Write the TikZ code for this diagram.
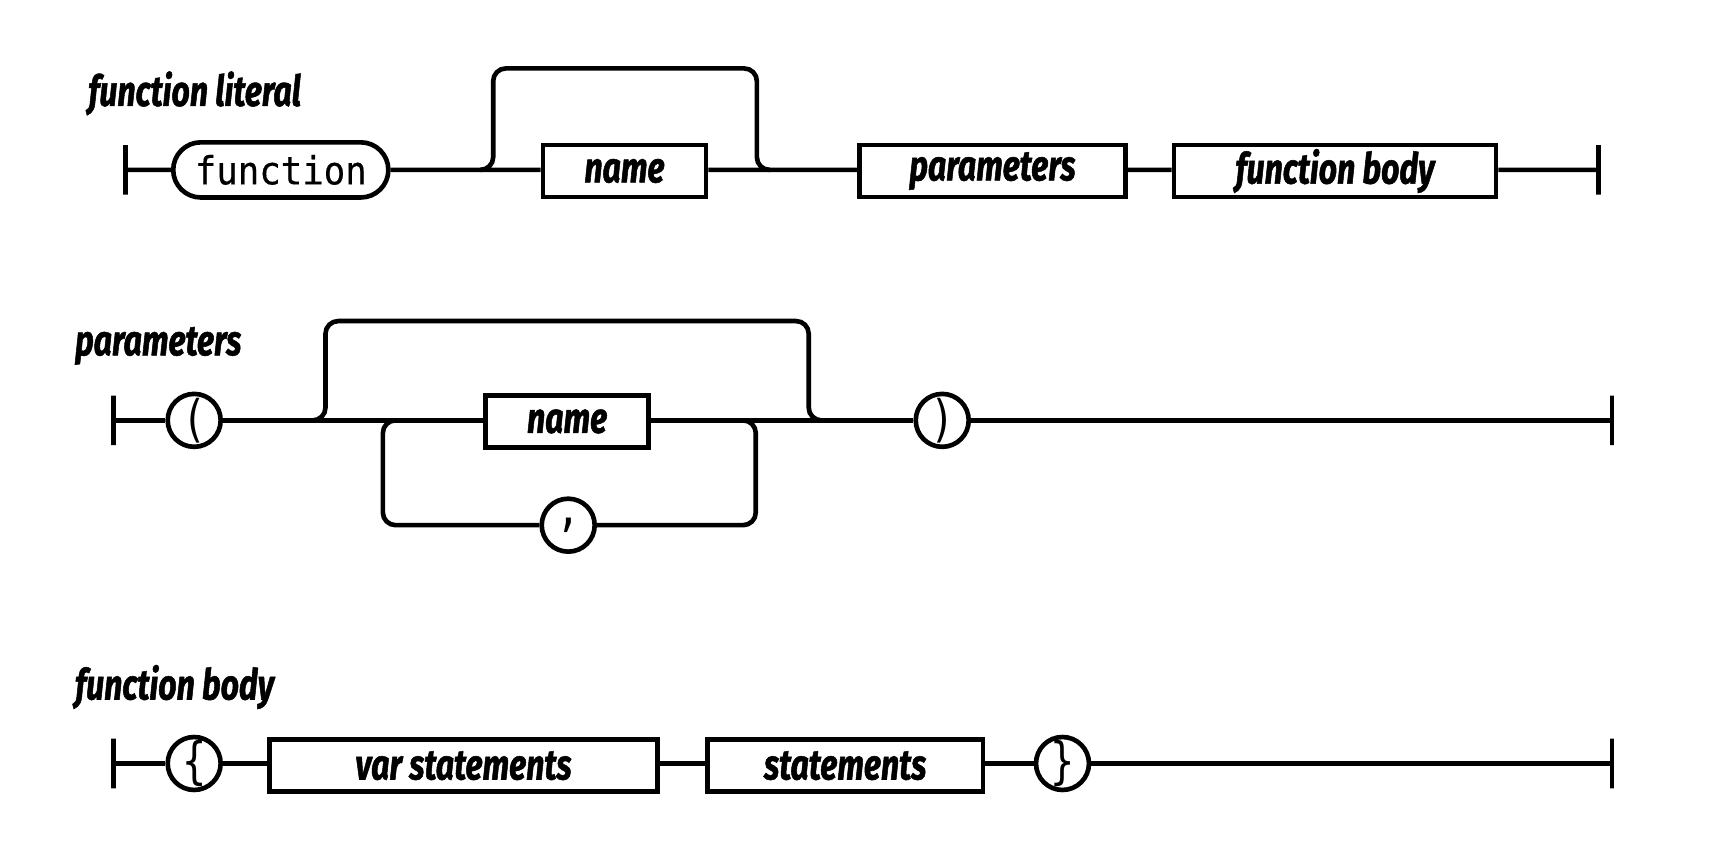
\documentclass[tikz,border=0pt]{standalone}
\usepackage{fontspec}
\usepackage{tikz}
\usetikzlibrary{shapes.misc}
\newfontfamily\railfont[FakeStretch=0.75,FakeBold=1.2]{Fira Sans}
\newfontfamily\railmono[FakeStretch=0.92,FakeBold=0.4]{DejaVu Sans Mono}
\newfontfamily\railtoken[FakeStretch=0.8]{DejaVu Sans Mono}

\begin{document}
\begin{tikzpicture}[x=0.1mm,y=-0.1mm,line width=0.42mm,
  every node/.style={inner sep=0pt},
  endbar/.style={draw,minimum width=0pt,minimum height=4.5mm},
  terminal/.style={draw,rounded rectangle,minimum height=5mm,font=\fontsize{10}{12}\railmono},
  nonterminal/.style={draw,rectangle,minimum height=4.7mm,font=\fontsize{11}{12}\railfont\bfseries\itshape},
  token/.style={draw,circle,minimum size=4.8mm,font=\fontsize{13}{12}\railtoken},
  rulename/.style={anchor=base west,font=\fontsize{11}{12}\railfont\bfseries\itshape},
  bypass/.style={rounded corners=1.15mm}]
\useasboundingbox (0,0) rectangle (1568,776);

\node[rulename] at (78,96) {function literal};
\node[endbar] (fl0) at (114,154) {};
\node[terminal,minimum width=19.5mm] (fl1) at (254.5,154) {function};
\node[nonterminal,minimum width=14.8mm] (fl2) at (566,155) {name};
\node[nonterminal,minimum width=24.1mm] (fl3) at (899.5,155) {parameters};
\node[nonterminal,minimum width=29.2mm] (fl4) at (1210,155) {function body};
\node[endbar] (fl5) at (1449,154) {};
\coordinate (flin) at (435,154);
\coordinate (fla) at (447,62);
\coordinate (flb) at (686,62);
\coordinate (flout) at (698,154);
\draw (fl0) -- (fl1) -- (fl2.west |- fl1) (fl2.east |- fl1) -- (fl3.west |- fl1)
  (fl3.east |- fl1) -- (fl4.west |- fl1) (fl4.east |- fl1) -- (fl5);
\draw[bypass] (flin) -| (fla) -- (flb) |- (flout);

\node[rulename] at (66,322) {parameters};
\node[endbar] (pa0) at (103,381) {};
\node[token] (pa1) at (176,381) {(};
\node[nonterminal,minimum width=14.8mm] (pa2) at (514,382) {name};
\node[token] (pa3) at (854,381) {)};
\node[endbar] (pa4) at (1461,381) {};
\node[token] (pa5) at (515,476) {,};
\coordinate (pain) at (283,381);
\coordinate (paa) at (295,291);
\coordinate (pab) at (733,291);
\coordinate (paout) at (745,381);
\coordinate (lpa) at (360,381);
\coordinate (lpb) at (347,476);
\coordinate (lpc) at (685,476);
\coordinate (lpd) at (673,381);
\draw (pa0) -- (pa1) -- (pa2.west |- pa1) (pa2.east |- pa1) -- (pa3) -- (pa4);
\draw[bypass] (pain) -| (paa) -- (pab) |- (paout);
\draw[bypass] (lpa) -| (lpb) -- (pa5);
\draw[bypass] (pa5) -- (lpc) |- (lpd);

\node[rulename] at (66,634) {function body};
\node[endbar] (fb0) at (103,692) {};
\node[token] (fb1) at (176,692) {\{};
\node[nonterminal,minimum width=35.2mm] (fb2) at (420,694) {var statements};
\node[nonterminal,minimum width=25mm] (fb3) at (766,694) {statements};
\node[token] (fb4) at (963,692) {\}};
\node[endbar] (fb5) at (1461,692) {};
\draw (fb0) -- (fb1) -- (fb2.west |- fb1) (fb2.east |- fb1) -- (fb3.west |- fb1)
  (fb3.east |- fb1) -- (fb4) -- (fb5);
\end{tikzpicture}
\end{document}
